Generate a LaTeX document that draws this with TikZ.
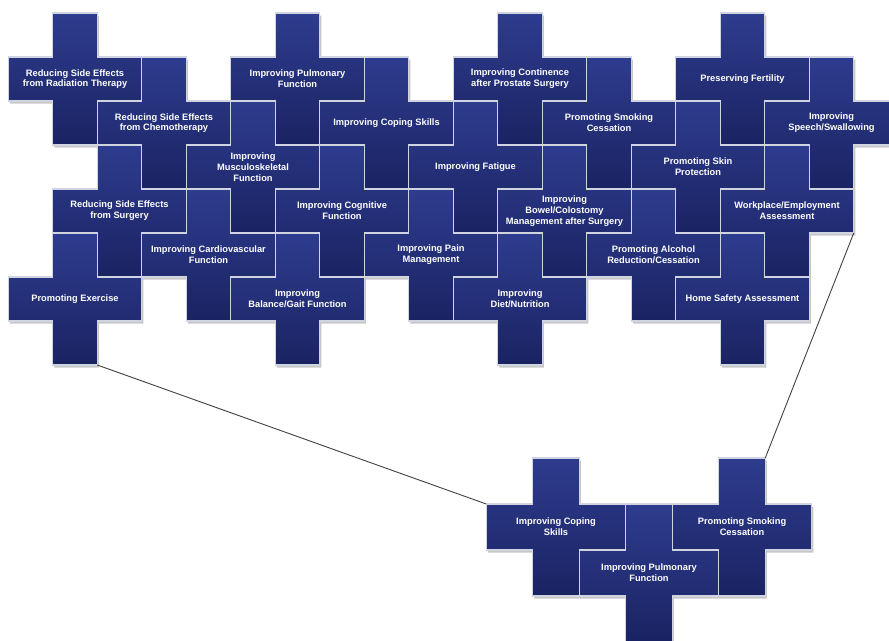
\documentclass[tikz,border=0pt]{standalone}
\usepackage{fontspec}
\setmainfont{Liberation Sans}
\definecolor{crossTop}{RGB}{46,60,142}
\definecolor{crossMid}{RGB}{40,53,132}
\definecolor{crossBot}{RGB}{26,35,98}
\definecolor{plusBorder}{RGB}{208,211,224}
\tikzset{
  plusfill/.style={top color=crossTop, middle color=crossMid, bottom color=crossBot, draw=plusBorder, line width=1.2pt, line join=miter},
  plusshadow/.style={fill=black, opacity=0.22},
  lbl/.style={text=white, font=\bfseries\fontsize{9.3}{10.8}\selectfont, align=center, inner sep=0pt},
  link/.style={draw=black!75, line width=0.9pt},
}
\newcommand\plusPoly{(-3*\plx,-\ply) -- (-\plx,-\ply) -- (-\plx,-3*\ply) -- (\plx,-3*\ply) -- (\plx,-\ply) -- (3*\plx,-\ply) -- (3*\plx,\ply) -- (\plx,\ply) -- (\plx,3*\ply) -- (-\plx,3*\ply) -- (-\plx,\ply) -- (-3*\plx,\ply) -- cycle}
\begin{document}
\begin{tikzpicture}[x=1pt,y=-1pt]
\useasboundingbox (0,0) rectangle (889,640);
\clip (0,0) rectangle (889,640);
\def\crossset{0/0,2/1,5/0,4/2,7/1,1/3,6/3,3/4,0/5,5/5,10/0,9/2,12/1,8/4,11/3,10/5,15/0,14/2,17/1,16/3,13/4,15/5}
% upper group
\def\plx{22.25}\def\ply{22}
\foreach \p/\q in \crossset {
  \fill[plusshadow, shift={(75+44.5*\p+1.5,79+44*\q+2.5)}] \plusPoly;
}
\foreach \p/\q in \crossset {
  \path[plusfill, shift={(75+44.5*\p,79+44*\q)}] \plusPoly;
}
% lower group
\def\plx{23.25}\def\ply{23}
\foreach \cx/\cy in {556/527,742/527,649/573} {
  \fill[plusshadow, shift={(\cx+1.5,\cy+2.5)}] \plusPoly;
}
\foreach \cx/\cy in {556/527,742/527,649/573} {
  \path[plusfill, shift={(\cx,\cy)}] \plusPoly;
}
% labels
\node[lbl] (rad)    at (75,79)    {Reducing Side Effects\\from Radiation Therapy};
\node[lbl] (chemo)  at (164,123)  {Reducing Side Effects\\from Chemotherapy};
\node[lbl] (pulm)   at (297.5,79) {Improving Pulmonary\\Function};
\node[lbl] (musc)   at (253,167)  {Improving\\Musculoskeletal\\Function};
\node[lbl] (coping) at (386.5,123){Improving Coping Skills};
\node[lbl] (surg)   at (119.5,211){Reducing Side Effects\\from Surgery};
\node[lbl] (cogn)   at (342,211)  {Improving Cognitive\\Function};
\node[lbl] (cardio) at (208.5,255){Improving Cardiovascular\\Function};
\node[lbl] (exer)   at (75,299)   {Promoting Exercise};
\node[lbl] (bal)    at (297.5,299){Improving\\Balance/Gait Function};
\node[lbl] (cont)   at (520,79)   {Improving Continence\\after Prostate Surgery};
\node[lbl] (fat)    at (475.5,167){Improving Fatigue};
\node[lbl] (smok)   at (609,123)  {Promoting Smoking\\Cessation};
\node[lbl] (pain)   at (431,255)  {Improving Pain\\Management};
\node[lbl] (bowel)  at (564.5,211){Improving\\Bowel/Colostomy\\Management after Surgery};
\node[lbl] (diet)   at (520,299)  {Improving\\Diet/Nutrition};
\node[lbl] (fert)   at (742.5,79) {Preserving Fertility};
\node[lbl] (skin)   at (698,167)  {Promoting Skin\\Protection};
\node[lbl] (speech) at (831.5,123){Improving\\Speech/Swallowing};
\node[lbl] (work)   at (787,211)  {Workplace/Employment\\Assessment};
\node[lbl] (alc)    at (653.5,255){Promoting Alcohol\\Reduction/Cessation};
\node[lbl] (home)   at (742.5,299){Home Safety Assessment};
\node[lbl] (coping2) at (556,527) {Improving Coping\\Skills};
\node[lbl] (smok2)   at (742,527) {Promoting Smoking\\Cessation};
\node[lbl] (pulm2)   at (649,573) {Improving Pulmonary\\Function};
% connector end points at cross corners
\path (exer.center) ++(22.25,66) coordinate (exerCorner);
\path (coping2.center) ++(-69.75,-23) coordinate (copingCorner);
\path (work.center) ++(66.75,22) coordinate (workCorner);
\path (smok2.center) ++(23.25,-69) coordinate (smokCorner);
\draw[link] (exerCorner) -- (copingCorner);
\draw[link] (workCorner) -- (smokCorner);
\end{tikzpicture}
\end{document}
